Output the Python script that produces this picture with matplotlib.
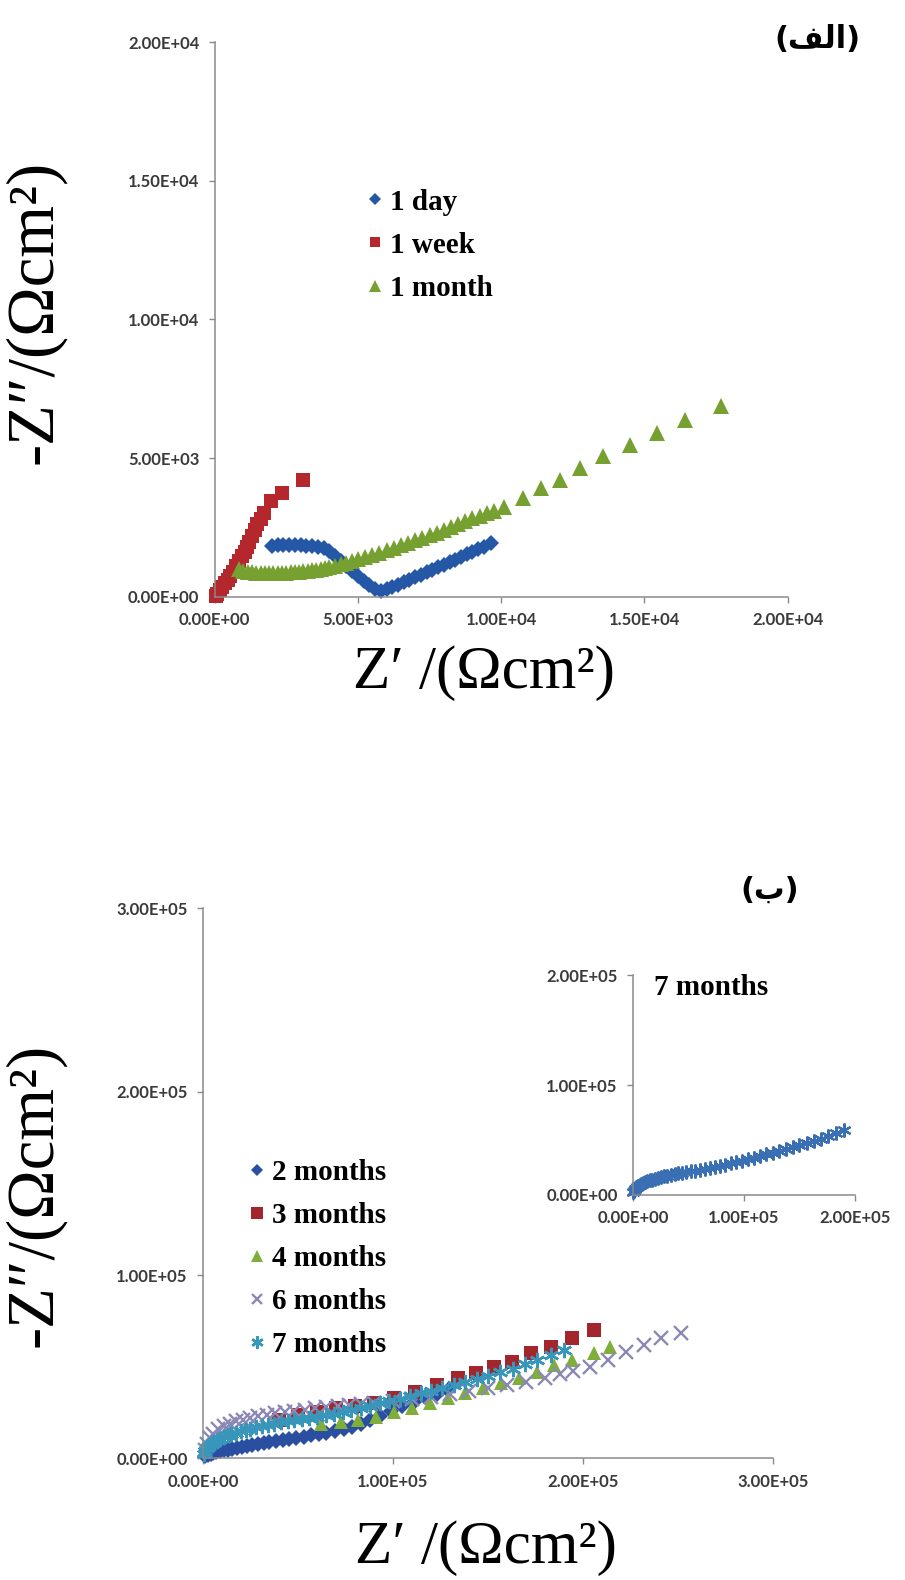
import matplotlib
matplotlib.use("Agg")
import matplotlib.pyplot as plt
from matplotlib.ticker import FuncFormatter

# ---- panel (الف): 1 day / 1 week / 1 month ----
day_x = [2000, 2200, 2400, 2600, 2800, 3000, 3200, 3400, 3600, 3800,
         4000, 4200, 4400, 4600, 4800, 5000, 5200, 5400, 5600, 5800,
         6000, 6200, 6400, 6600, 6800, 7000, 7200, 7400, 7600, 7800,
         8000, 8200, 8400, 8600, 8800, 9000, 9200, 9400, 9650]
day_y = [1830, 1860, 1870, 1860, 1850, 1850, 1840, 1830, 1800, 1760,
         1640, 1480, 1300, 1120, 940, 760, 580, 420, 280, 200,
         260, 340, 430, 520, 610, 700, 790, 880, 970, 1060,
         1150, 1240, 1330, 1420, 1520, 1610, 1700, 1800, 1940]

week_x = [30, 90, 180, 270, 360, 450, 550, 650, 760, 860, 960,
          1050, 1130, 1210, 1300, 1400, 1490, 1610, 1730, 1980, 2350, 3100]
week_y = [30, 110, 230, 360, 480, 610, 750, 900, 1090, 1280, 1450,
          1600, 1780, 1960, 2170, 2400, 2610, 2810, 3020, 3440, 3740, 4220]

month_x = [860, 1000, 1150, 1300, 1450, 1600, 1750, 1900, 2050, 2200,
           2350, 2500, 2650, 2800, 2950, 3100, 3250, 3400, 3550, 3700,
           3850, 4000, 4200, 4400, 4600, 4800, 5000, 5250, 5500, 5750,
           6000, 6250, 6500, 6750, 7000, 7250, 7500, 7750, 8000, 8250,
           8500, 8750, 9000, 9250, 9500, 9750, 10100, 10750, 11380, 12060,
           12750, 13560, 14490, 15430, 16420, 17670]
month_y = [980, 930, 900, 880, 865, 855, 850, 845, 845, 850,
           855, 860, 870, 880, 895, 910, 930, 950, 975, 1000,
           1030, 1060, 1110, 1160, 1220, 1280, 1340, 1420, 1500, 1580,
           1670, 1760, 1850, 1940, 2030, 2120, 2210, 2300, 2400, 2510,
           2610, 2720, 2820, 2920, 3000, 3080, 3250, 3560, 3920, 4220,
           4640, 5060, 5480, 5900, 6380, 6860]

# ---- panel (ب): 2 / 3 / 4 / 6 / 7 months ----
m2_x = [1000, 2500, 4000, 5500, 7000, 9000, 11000, 13000, 15500, 18000,
        20500, 23000, 26000, 29000, 32000, 35000, 38500, 42000, 45500, 49000,
        53000, 57000, 61000, 65000, 69500, 74000, 78500, 83000, 88000, 93000,
        99000, 105000, 111000, 117000, 123000, 129000]
m2_y = [1200, 1900, 2500, 3000, 3400, 3900, 4400, 4800, 5300, 5800,
        6300, 6700, 7200, 7700, 8200, 8700, 9300, 9900, 10500, 11100,
        11800, 12500, 13200, 14000, 14900, 15900, 17200, 18800, 20900, 23300,
        26000, 28700, 31000, 33200, 35300, 37400]

m3_x = [40000, 50000, 60000, 70000, 80000, 90000, 100600, 111800, 123100,
        134300, 143700, 153100, 162500, 172800, 183100, 194400, 205600]
m3_y = [21000, 23500, 25500, 27200, 28800, 30300, 32700, 36400, 40000,
        43600, 46400, 50000, 52700, 57300, 60900, 65500, 70000]

m4_x = [62000, 72400, 81800, 91200, 100600, 109900, 119300, 128700, 138100,
        147500, 156800, 166200, 175600, 185000, 194400, 205600, 214000]
m4_y = [18500, 20000, 20900, 22700, 25450, 27270, 30000, 32720, 35450,
        38180, 40900, 43630, 47270, 50900, 53630, 57270, 60900]

m6_x = [800, 2000, 3500, 5500, 8000, 11000, 14000, 17500, 21000, 25000,
        29000, 33500, 38000, 43000, 48000, 53500, 59000, 65000, 71000, 77000,
        83000, 90000, 100000, 110000, 120000, 130000, 140000, 150000, 160000, 170000,
        180000, 188000, 195000, 203700, 213100, 222500, 231900, 241300, 251600]
m6_y = [4500, 8000, 11000, 13500, 15800, 17500, 18900, 20100, 21100, 22100,
        23000, 23900, 24700, 25400, 26000, 26600, 27200, 27900, 28500, 29100,
        29600, 30200, 31200, 32400, 33700, 35100, 36600, 38200, 39900, 41800,
        43900, 45800, 47800, 50000, 53600, 58200, 61800, 65400, 68200]

m7_x = [300, 1000, 2000, 3200, 4500, 6000, 7500, 9000, 11000, 13000,
        15000, 17500, 20000, 22500, 25000, 28000, 31000, 34000, 37500, 41000,
        44500, 48000, 52000, 56000, 60000, 64500, 69000, 73500, 78000, 83000,
        88000, 93000, 98000, 103500, 109000, 114500, 120000, 126000, 132000, 138000,
        144000, 150000, 156500, 163000, 169500, 176000, 183000, 190000]
m7_y = [2500, 4000, 5500, 6800, 8000, 9100, 10000, 10800, 11700, 12500,
        13200, 14000, 14800, 15500, 16200, 17000, 17700, 18400, 19000, 19600,
        20200, 20800, 21400, 22000, 22600, 23400, 24300, 25300, 26400, 27600,
        28800, 30000, 31200, 32600, 34000, 35400, 36900, 38500, 40100, 41700,
        43400, 45100, 47000, 49000, 51200, 53500, 56200, 59000]

ticks_a = [0, 5000, 10000, 15000, 20000]
ticks_b = [0, 100000, 200000, 300000]
ticks_inset = [0, 100000, 200000]

plt.rcParams['font.family'] = ['Lato', 'DejaVu Sans']
plt.rcParams['font.weight'] = 'bold'

SERIF = ['Liberation Serif', 'DejaVu Serif']
AXIS_GREY = '#8a8a8a'


def sci(v, pos):
    return f"{v:.2E}"


def style(ax, ticks, lim):
    for s in ['top', 'right']:
        ax.spines[s].set_visible(False)
    for s in ['left', 'bottom']:
        ax.spines[s].set_color(AXIS_GREY)
        ax.spines[s].set_linewidth(1.1)
    ax.set_xlim(0, lim)
    ax.set_ylim(0, lim)
    ax.set_xticks(ticks)
    ax.set_yticks(ticks)
    ax.xaxis.set_major_formatter(FuncFormatter(sci))
    ax.yaxis.set_major_formatter(FuncFormatter(sci))
    ax.tick_params(direction='out', length=4, width=1, color=AXIS_GREY,
                   labelsize=12, labelcolor='#3a3a3a', pad=7)
    ax.set_facecolor('none')


leg_kw = dict(frameon=False, borderpad=0, borderaxespad=0, handlelength=0.6,
              handletextpad=0.2, labelspacing=0.55,
              prop={'family': SERIF, 'weight': 'bold', 'size': 21})

fig = plt.figure(figsize=(9.05, 15.8), dpi=100)

# top panel
ax1 = fig.add_axes([0.2372, 0.6224, 0.6331, 0.3508])
ax1.plot(day_x, day_y, 'D', color='#2458A6', ms=8.5, mew=0, label='1 day', clip_on=False)
ax1.plot(week_x, week_y, 's', color='#B3272D', ms=10, mew=0, label='1 week', clip_on=False)
ax1.plot(month_x, month_y, '^', color='#76A030', ms=11, mew=0, label='1 month', clip_on=False)
style(ax1, ticks_a, 20000)
ax1.legend(loc='upper left', bbox_to_anchor=(0.405, 0.8806), bbox_transform=fig.transFigure,
           markerscale=0.75, **leg_kw)

# bottom panel
ax2 = fig.add_axes([0.2243, 0.0770, 0.6298, 0.3481])
ax2.plot(m2_x, m2_y, 'D', color='#2B4FA0', ms=8, mew=0, label='2 months', clip_on=False)
ax2.plot(m3_x, m3_y, 's', color='#A2262C', ms=10, mew=0, label='3 months', clip_on=False)
ax2.plot(m4_x, m4_y, '^', color='#7FAE3A', ms=10.5, mew=0, label='4 months', clip_on=False)
ax2.plot(m6_x, m6_y, 'x', color='#8C88B5', ms=9.5, mew=1.7, label='6 months', clip_on=False)
ax2.plot(m7_x, m7_y, marker=(6, 2, 0), ls='none', color='#3896BA', ms=11, mew=1.8,
         label='7 months', clip_on=False)
style(ax2, ticks_b, 300000)
ax2.legend(loc='upper left', bbox_to_anchor=(0.2748, 0.2665), bbox_transform=fig.transFigure,
           markerscale=0.8, **leg_kw)

# inset: 7 months alone
ax3 = fig.add_axes([0.6994, 0.2437, 0.2453, 0.1389])
ax3.plot(m7_x, m7_y, marker=(6, 2, 0), ls='none', color='#3A6FB3', ms=10, mew=1.6, clip_on=False)
style(ax3, ticks_inset, 200000)
fig.text(0.7856, 0.3747, '7 months', family=SERIF, weight='bold', size=21,
         ha='center', va='center')

# panel labels (Arabic, presentation forms in visual order)
fig.text(0.9028, 0.9753, '(\uFED2\uFEDF\uFE8D)', family=['DejaVu Sans'], weight='bold',
         size=22, ha='center', va='center')
fig.text(0.8508, 0.4365, '(\uFE8F)', family=['DejaVu Sans'], weight='bold',
         size=22, ha='center', va='center')

# axis titles
ylab = '-Z\u2033/(\u03A9cm\u00B2)'
xlab = 'Z\u2032 /(\u03A9cm\u00B2)'
fig.text(0.0387, 0.8025, ylab, family=SERIF, weight='normal', size=48,
         rotation=90, ha='center', va='center')
fig.text(0.5348, 0.5741, xlab, family=SERIF, weight='normal', size=44,
         ha='center', va='center')
fig.text(0.0387, 0.2440, ylab, family=SERIF, weight='normal', size=48,
         rotation=90, ha='center', va='center')
fig.text(0.5370, 0.0203, xlab, family=SERIF, weight='normal', size=44,
         ha='center', va='center')

fig.savefig('out.png', dpi=100)
